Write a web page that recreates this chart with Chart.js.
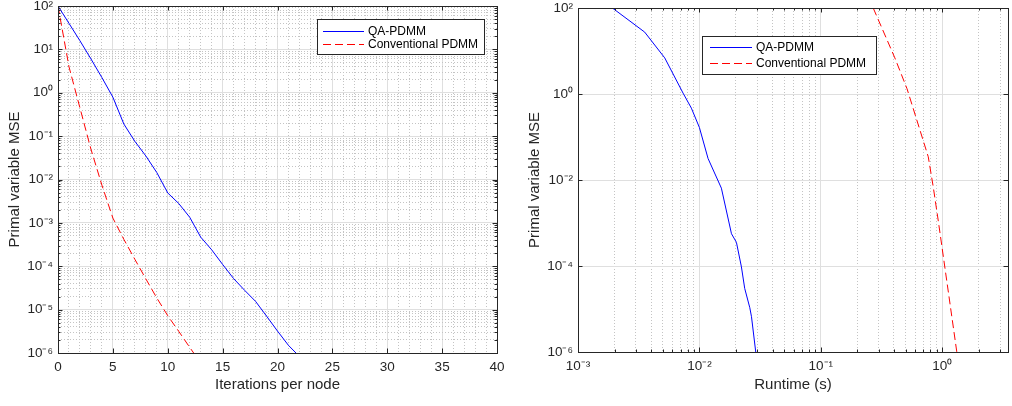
<!DOCTYPE html>
<html><head><meta charset="utf-8">
<script src="https://cdn.jsdelivr.net/npm/chart.js@4.4.1/dist/chart.umd.min.js"></script>
<style>
html,body{margin:0;padding:0;background:#fff;width:1012px;height:406px;overflow:hidden}
canvas{position:absolute;top:0}
#c1{left:0}
#c2{left:506px}
</style></head><body>
<canvas id="c1" width="506" height="406"></canvas>
<canvas id="c2" width="506" height="406"></canvas>
<script>
// ---------------- data ----------------
const seriesNames = ['QA-PDMM', 'Conventional PDMM'];

// Left panel: MSE vs iterations per node
const iterQA = [0,1,2,3,4,5,6,7,8,9,10,11,12,13,14,15,16,17,18,19,20,21,22];
const mseQA_iter = [100, 39.8, 15.8, 6.03, 2.24, 0.79, 0.19, 0.076, 0.035, 0.0145, 0.0049, 0.0028,
  0.00135, 0.00047, 0.00024, 0.00011, 5.2e-5, 2.8e-5, 1.55e-5, 7.1e-6, 3.2e-6, 1.5e-6, 8.3e-7];
const iterConv = [0,1,2,3,4,5,6,7,8,9,10,11,12,13];
const mseConv_iter = [100, 3.98, 0.447, 0.0501, 0.00741, 0.00129, 0.000417, 0.000145, 5.13e-5,
  1.86e-5, 7.24e-6, 3.16e-6, 1.35e-6, 5.9e-7];

// Right panel: MSE vs runtime (s)
const timeQA = [0.00192, 0.00354, 0.00518, 0.00733, 0.00859, 0.0100, 0.01178, 0.01517, 0.01837,
  0.02018, 0.02218, 0.0236, 0.026, 0.02685, 0.0291];
const mseQA_time = [100, 27.5, 6.92, 1.05, 0.468, 0.166, 0.0316, 0.00646, 0.000562, 0.000355,
  9.55e-5, 3.02e-5, 1.07e-5, 6.61e-6, 1e-6];
const timeConv = [0.27, 0.407, 0.513, 0.655, 0.767, 0.843, 0.933, 1.047, 1.175, 1.318];
const mseConv_time = [100, 6.92, 1.32, 0.145, 0.0347, 0.00692, 0.001, 0.0001, 1e-5, 1e-6];

// Tick values / labels
const leftXMajor = [0, 5, 10, 15, 20, 25, 30, 35, 40];
const leftXLabels = ['0','5','10','15','20','25','30','35','40'];
const leftYMajor = [1e-6, 1e-5, 1e-4, 1e-3, 1e-2, 1e-1, 1e0, 1e1, 1e2];
const leftYLabels = ['10⁻⁶','10⁻⁵','10⁻⁴','10⁻³','10⁻²','10⁻¹','10⁰','10¹','10²'];
const rightXMajor = [1e-3, 1e-2, 1e-1, 1e0];
const rightXLabels = ['10⁻³','10⁻²','10⁻¹','10⁰'];
const rightYMajor = [1e-6, 1e-4, 1e-2, 1e0, 1e2];
const rightYLabels = ['10⁻⁶','10⁻⁴','10⁻²','10⁰','10²'];

// ---------------- helpers ----------------
const FONT = 'Liberation Sans';
const AX = '#262626';
const GRID_MAJOR = 'rgb(223,223,223)';
const GRID_MINOR = 'rgb(196,196,196)';

function linTicks(min, max, step, majors) {
  const out = [];
  for (let v = min; v <= max + 1e-9; v += step) out.push({ value: v, major: majors.includes(v) });
  return out;
}
function logTicks(majors, maxVal, withMinor) {
  const out = [];
  majors.forEach((m, i) => {
    out.push({ value: m, major: true });
    if (withMinor) {
      for (let k = 2; k <= 9; k++) {
        const v = +(k * m).toPrecision(6);
        if (v < maxVal && (i + 1 >= majors.length || v < majors[i + 1])) out.push({ value: v, major: false });
      }
    }
  });
  return out.sort((a, b) => a.value - b.value);
}
function labelFor(majors, labels) {
  return (v, i, ticks) => {
    if (!ticks[i].major) return '';
    const j = majors.findIndex(m => Math.abs(m - v) <= Math.abs(m) * 1e-6 + 1e-12);
    return j >= 0 ? labels[j] : '';
  };
}
const gridColor = c => (c.tick && !c.tick.major) ? GRID_MINOR : GRID_MAJOR;
const gridDash = c => (c.tick && !c.tick.major) ? [1, 2] : [];

const framePlugin = {
  id: 'frame',
  afterDatasetsDraw(chart, args, opts) {
    const { ctx, chartArea: a } = chart;
    const L = Math.round(a.left), R = Math.round(a.right), T = Math.round(a.top), B = Math.round(a.bottom);
    ctx.save();
    ctx.strokeStyle = AX;
    ctx.lineWidth = 1;
    const marks = (scale, minor) => {
      scale.ticks.forEach(t => {
        if (!t.major && !minor) return;
        const len = t.major ? 4.5 : 2.5;
        const p = Math.round(scale.getPixelForValue(t.value)) + 0.5;
        ctx.beginPath();
        if (scale.isHorizontal()) {
          ctx.moveTo(p, B); ctx.lineTo(p, B - len);
          ctx.moveTo(p, T); ctx.lineTo(p, T + len);
        } else {
          ctx.moveTo(L, p); ctx.lineTo(L + len, p);
          ctx.moveTo(R, p); ctx.lineTo(R - len, p);
        }
        ctx.stroke();
      });
    };
    marks(chart.scales.x, opts.minorX);
    marks(chart.scales.y, opts.minorY);
    ctx.strokeRect(L + 0.5, T + 0.5, R - L, B - T);

    // legend box
    const lg = opts.legend;
    const bx = Math.round(lg.anchor === 'right' ? a.right - lg.dx - lg.w : a.left + lg.dx);
    const by = Math.round(a.top + lg.dy);
    ctx.fillStyle = '#fff';
    ctx.fillRect(bx, by, lg.w, lg.h);
    ctx.strokeStyle = AX;
    ctx.strokeRect(bx + 0.5, by + 0.5, lg.w, lg.h);
    ctx.font = '12px "' + FONT + '"';
    ctx.textBaseline = 'middle';
    ctx.textAlign = 'left';
    chart.data.datasets.forEach((ds, i) => {
      const y = by + lg.rows[i] + 0.5;
      ctx.beginPath();
      ctx.strokeStyle = ds.borderColor;
      ctx.lineWidth = ds.borderWidth;
      ctx.setLineDash(ds.borderDash || []);
      ctx.moveTo(bx + lg.x0, y); ctx.lineTo(bx + lg.x1, y);
      ctx.stroke();
      ctx.setLineDash([]);
      ctx.fillStyle = '#000';
      ctx.fillText(ds.label, bx + lg.tx, y);
    });
    ctx.restore();
  }
};

function zeroPad(s) { s.paddingTop = 0; s.paddingBottom = 0; s.paddingLeft = 0; s.paddingRight = 0; }

function tickFont() { return { family: FONT, size: 13.5 }; }
function titleFont() { return { family: FONT, size: 15 }; }

function makeChart(id, cfg) {
  return new Chart(document.getElementById(id), {
    type: 'line',
    data: {
      datasets: [
        { label: seriesNames[0], data: cfg.xa.map((x, i) => ({ x, y: cfg.ya[i] })),
          borderColor: '#0000ff', borderWidth: 1, pointRadius: 0, tension: 0, fill: false },
        { label: seriesNames[1], data: cfg.xb.map((x, i) => ({ x, y: cfg.yb[i] })),
          borderColor: '#ff0000', borderWidth: 1, borderDash: [8, 4], pointRadius: 0, tension: 0, fill: false }
      ]
    },
    options: {
      responsive: false,
      animation: false,
      devicePixelRatio: 1,
      events: [],
      layout: { padding: cfg.padding },
      plugins: {
        legend: { display: false },
        tooltip: { enabled: false },
        frame: { minorX: cfg.minorX, minorY: cfg.minorY, legend: cfg.legend }
      },
      scales: {
        x: {
          type: cfg.xType, min: cfg.xMin, max: cfg.xMax,
          afterBuildTicks: s => { s.ticks = cfg.xTicks.map(t => ({ ...t })); },
          afterFit: s => { s.height = cfg.xH; zeroPad(s); },
          ticks: { autoSkip: false, maxRotation: 0, minRotation: 0, padding: 6, color: AX,
                   font: tickFont(), major: { enabled: false }, callback: cfg.xLabel },
          grid: { drawTicks: false, color: gridColor, lineWidth: 1 },
          border: { display: false, dash: gridDash },
          title: { display: true, text: cfg.xTitle, color: AX, font: titleFont(), padding: { top: 0, bottom: 12 } }
        },
        y: {
          type: 'logarithmic', min: cfg.yMin, max: cfg.yMax,
          afterBuildTicks: s => { s.ticks = cfg.yTicks.map(t => ({ ...t })); },
          afterFit: s => { s.width = cfg.yW; zeroPad(s); },
          ticks: { autoSkip: false, padding: 5, color: AX, font: tickFont(),
                   major: { enabled: false }, callback: cfg.yLabel },
          grid: { drawTicks: false, color: gridColor, lineWidth: 1 },
          border: { display: false, dash: gridDash },
          title: { display: true, text: 'Primal variable MSE', color: AX, font: titleFont(),
                   padding: { top: cfg.yTitlePad, bottom: 0 } }
        }
      }
    },
    plugins: [framePlugin]
  });
}

// Left chart
makeChart('c1', {
  xa: iterQA, ya: mseQA_iter, xb: iterConv, yb: mseConv_iter,
  xType: 'linear', xMin: 0, xMax: 40,
  xTicks: linTicks(0, 40, 1, leftXMajor), xLabel: labelFor(leftXMajor, leftXLabels),
  yMin: 1e-6, yMax: 1e2,
  yTicks: logTicks(leftYMajor, 1e2, true), yLabel: labelFor(leftYMajor, leftYLabels),
  xTitle: 'Iterations per node',
  padding: { left: 0, right: 9, top: 6, bottom: 0 },
  xH: 53, yW: 58, yTitlePad: 6,
  minorX: false, minorY: true,
  legend: { anchor: 'right', dx: 13, dy: 13, w: 167, h: 35, rows: [12, 25], x0: 6, x1: 47, tx: 51 }
});

// Right chart
makeChart('c2', {
  xa: timeQA, ya: mseQA_time, xb: timeConv, yb: mseConv_time,
  xType: 'logarithmic', xMin: 1e-3, xMax: 3.48,
  xTicks: logTicks(rightXMajor, 3.48, true), xLabel: labelFor(rightXMajor, rightXLabels),
  yMin: 1e-6, yMax: 1e2,
  yTicks: logTicks(rightYMajor, 1e2, false), yLabel: labelFor(rightYMajor, rightYLabels),
  xTitle: 'Runtime (s)',
  padding: { left: 0, right: 4, top: 8, bottom: 0 },
  xH: 54, yW: 72, yTitlePad: 20,
  minorX: true, minorY: false,
  legend: { anchor: 'left', dx: 124, dy: 28, w: 174, h: 38, rows: [11, 27], x0: 8, x1: 50, tx: 54 }
});
</script>
</body></html>
